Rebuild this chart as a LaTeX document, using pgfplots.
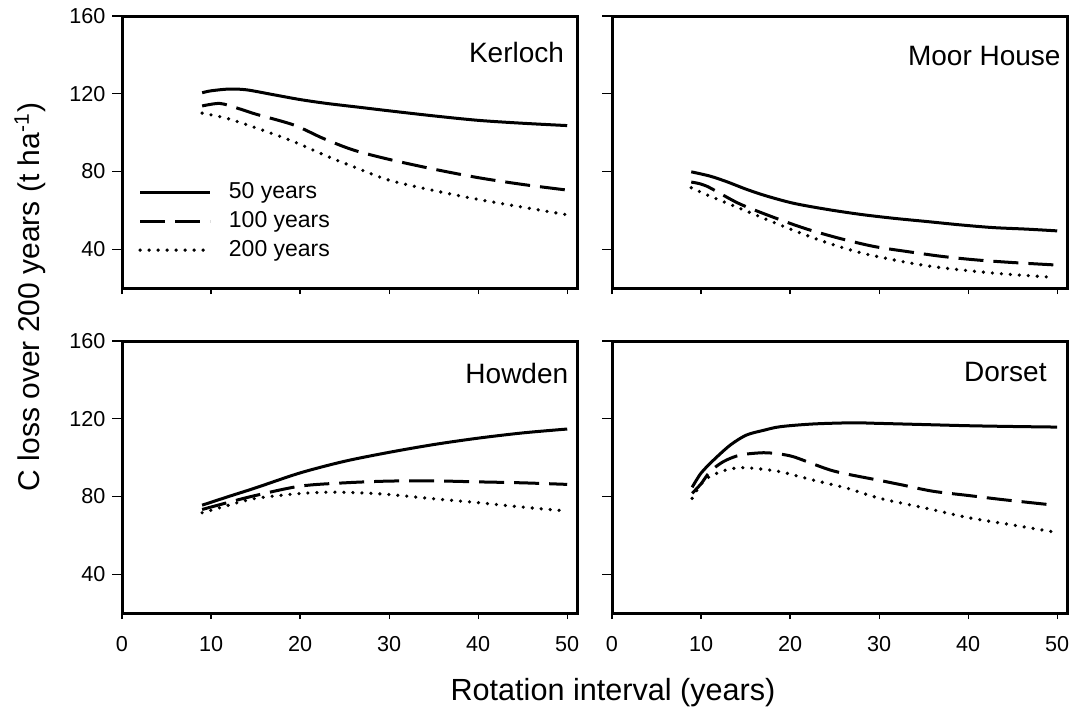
\documentclass[border=0pt]{standalone}
\usepackage{pgfplots}
\pgfplotsset{compat=1.18}
\usepackage{fontspec}
\setmainfont{Liberation Sans}

% one pixel of the reference = 0.5pt
\pgfplotsset{
  panel/.style={
    scale only axis, width=227.5pt, height=136pt,
    anchor=north west,
    xmin=0, xmax=51.1, ymin=20, ymax=160,
    xtick={0,10,20,30,40,50}, ytick={40,80,120,160},
    xtick pos=left, ytick pos=left, tick align=outside,
    axis line style={line width=1.5pt},
    tick style={line width=0.6pt, black},
    xtick style={/pgfplots/major tick length=3pt},
    ytick style={/pgfplots/major tick length=5pt},
    /pgf/number format/assume math mode=true,
    tick label style={font=\fontsize{10.8}{13}\selectfont, inner sep=0pt},
    xticklabel style={anchor=north, yshift=-7pt},
    yticklabel style={anchor=east, xshift=-3.8pt},
    legend image code/.code={\draw[#1] (0pt,0pt) -- (35pt,0pt);},
  },
  y50/.style={black, line width=1.5pt, smooth},
  y100/.style={black, line width=1.5pt, smooth, dash pattern=on 12.5pt off 5pt},
  y200/.style={black, line width=1.8pt, smooth, dash pattern=on 0pt off 4.5pt, line cap=round},
}
\tikzset{ttl/.style={anchor=east, inner sep=0pt, font=\fontsize{14}{16}\selectfont}}

\begin{document}
\begin{tikzpicture}
\useasboundingbox (0pt,0pt) rectangle (541pt,-354.5pt);

% Kerloch
\begin{axis}[panel, at={(61pt,-8pt)}, xticklabels={},
  legend style={at={(axis description cs:0.035,0.246)}, anchor=west,
    draw=none, fill=none, inner sep=0pt, row sep=3.5pt,
    font=\fontsize{11.5}{13}\selectfont,
    nodes={inner sep=0pt, text height=8.5pt, text depth=2.5pt},
    /tikz/every odd column/.style={column sep=8.5pt}},
  legend cell align=left]
\addplot[y50] coordinates {(9,120.5) (10,121.5) (12,122.4) (14,122) (17,119.5) (20,117) (23,115) (26.7,113) (30,111.2) (35,108.6) (40,106.3) (45,104.8) (50,103.6)};
\addplot[y100] coordinates {(9,113.7) (11,115) (13,112.5) (15.1,109.4) (19.3,103.9) (22.6,97) (26,91) (30,86.2) (35,81.2) (40,76.8) (45,73.3) (50,70.4)};
\addplot[y200] coordinates {(9,110) (11.8,107.3) (15.5,101.7) (19.3,95.3) (23,87.9) (26,82.4) (30,75.5) (35,70.2) (40,65.6) (45,61.6) (50,57.7)};
\legend{50 years, 100 years, 200 years}
\node[ttl] at (rel axis cs:1,1) [xshift=-6.3pt, yshift=-18pt] {Kerloch};
\end{axis}

% Moor House
\begin{axis}[panel, at={(306pt,-8pt)}, xticklabels={}, yticklabels={}]
\addplot[y50] coordinates {(8.9,79.8) (11,77.6) (12.9,74.7) (15.1,70.8) (17.4,67.3) (20.4,63.6) (24.1,60.5) (27.9,57.9) (31.6,55.9) (35.4,54.2) (39.1,52.5) (42.8,51.1) (46.6,50.3) (50,49.4)};
\addplot[y100] coordinates {(8.9,74.5) (10.6,72.5) (14.2,63.6) (17.9,56.8) (21.7,50.6) (25.6,45.5) (29.4,41.4) (33.1,38.8) (37,36.3) (40.8,34.5) (44.7,33.2) (50,31.8)};
\addplot[y200] coordinates {(8.9,71.6) (11,67.3) (15.1,59.6) (19.6,51.1) (24.1,43.4) (28.6,37.4) (35.4,31.4) (42.8,27.7) (49.6,25.5)};
\node[ttl] at (rel axis cs:1,1) [xshift=-3pt, yshift=-20pt] {Moor House};
\end{axis}

% Howden
\begin{axis}[panel, at={(61pt,-170.5pt)}]
\addplot[y50] coordinates {(9,75.5) (12,80) (15,84.4) (20,92.1) (25,98.1) (30,102.7) (35,106.7) (40,110) (45,112.7) (50,114.7)};
\addplot[y100] coordinates {(9,73.3) (12,77) (15,80.5) (20,85.3) (25,87) (30,87.9) (35,88) (40,87.5) (45,87) (50,86.2)};
\addplot[y200] coordinates {(9,71.6) (12,75.5) (15,79) (20,81.5) (23.6,82.2) (27,81.8) (30,81) (35,78.8) (40,76.8) (45,74.5) (50,72.5)};
\node[ttl] at (rel axis cs:1,1) [xshift=-4.2pt, yshift=-16.3pt] {Howden};
\end{axis}

% Dorset
\begin{axis}[panel, at={(306pt,-170.5pt)}, yticklabels={}]
\addplot[y50] coordinates {(9,84.7) (10,92) (11.4,98.7) (13.3,106.5) (15.1,111.6) (17,114) (18.9,115.9) (22.6,117.3) (27,117.9) (30,117.6) (35,117) (40,116.4) (45,116) (50,115.7)};
\addplot[y100] coordinates {(9,81.6) (10,86.5) (11,92.7) (12.5,97.9) (14.4,101.3) (17,102.5) (18.9,101.8) (20.4,100.4) (22.6,96.7) (24.5,93.6) (26.4,91.5) (30,88.3) (32.5,86) (36,82.7) (40,80.5) (44,78.3) (49.5,75.6)};
\addplot[y200] coordinates {(9,79) (10.4,88.4) (12.5,93.2) (14.4,94.8) (16.3,94.3) (18.9,92.7) (22.6,88.4) (26.4,84.2) (30.1,79) (35,74.2) (40,69.1) (45,65.3) (50,61.4)};
\node[ttl] at (rel axis cs:1,1) [xshift=-10pt, yshift=-15.5pt] {Dorset};
\end{axis}

\node[rotate=90, font=\fontsize{15}{18}\selectfont] at (15pt,-148.5pt) {C loss over 200 years (t ha\textsuperscript{-1})};
\node[font=\fontsize{15.3}{18}\selectfont] at (306.5pt,-346.5pt) {Rotation interval (years)};
\end{tikzpicture}
\end{document}
